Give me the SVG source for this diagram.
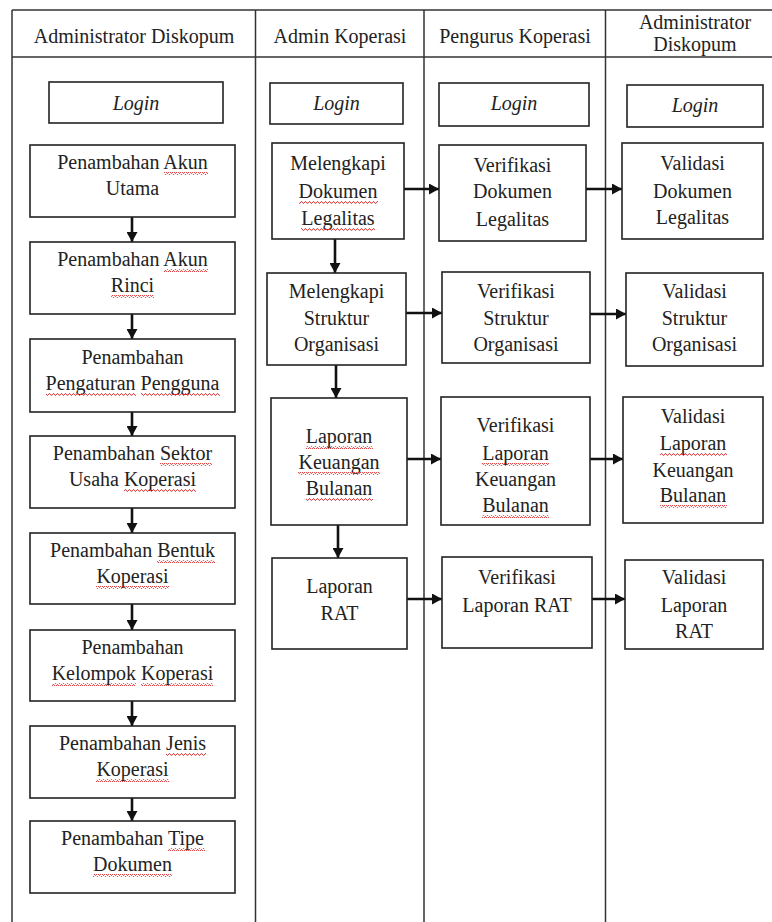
<svg xmlns="http://www.w3.org/2000/svg" width="772" height="922" viewBox="0 0 772 922">
<style>
text{font-family:"Liberation Serif","Times New Roman",serif;font-size:20px;fill:#222;text-anchor:middle}
.it{font-style:italic}
.box{fill:#fff;stroke:#222;stroke-width:1.6}
.grid{stroke:#333;stroke-width:1.5;fill:none}
.arr{stroke:#111;stroke-width:2.6;fill:none;marker-end:url(#ah)}
.wv{fill:url(#wave)}
</style>
<defs>
<marker id="ah" markerUnits="userSpaceOnUse" markerWidth="11" markerHeight="11" refX="10" refY="5.5" orient="auto">
<path d="M0,0 L10,5.5 L0,11 z" fill="#111"/>
</marker>
<pattern id="wave" patternUnits="userSpaceOnUse" width="4" height="3">
<path d="M0,2.3 L1,0.7 L2,0.7 L3,2.3 L4,2.3" fill="none" stroke="#d33" stroke-width="0.9"/>
</pattern>
</defs>
<rect width="772" height="922" fill="#fff"/>
<g id="table">
<line class="grid" x1="12" y1="10" x2="772" y2="10"/>
<line class="grid" x1="12" y1="57" x2="772" y2="57"/>
<line class="grid" x1="12" y1="10" x2="12" y2="922"/>
<line class="grid" x1="255.5" y1="10" x2="255.5" y2="922"/>
<line class="grid" x1="424" y1="10" x2="424" y2="922"/>
<line class="grid" x1="605.5" y1="10" x2="605.5" y2="922"/>
<text x="134" y="43">Administrator Diskopum</text>
<text x="340" y="43">Admin Koperasi</text>
<text x="515" y="43">Pengurus Koperasi</text>
<text x="695" y="29">Administrator</text>
<text x="695" y="51">Diskopum</text>
</g>
<g id="connectors">
<line class="arr" x1="132" y1="217" x2="132" y2="242"/>
<line class="arr" x1="132" y1="314" x2="132" y2="339"/>
<line class="arr" x1="132" y1="412" x2="132" y2="436"/>
<line class="arr" x1="132" y1="508" x2="132" y2="533"/>
<line class="arr" x1="132" y1="604" x2="132" y2="630"/>
<line class="arr" x1="132" y1="701" x2="132" y2="726"/>
<line class="arr" x1="132" y1="798" x2="132" y2="821"/>
<line class="arr" x1="335" y1="239" x2="335" y2="273"/>
<line class="arr" x1="336" y1="365" x2="336" y2="398"/>
<line class="arr" x1="338" y1="525" x2="338" y2="558"/>
<line class="arr" x1="402" y1="189" x2="439" y2="189"/>
<line class="arr" x1="583" y1="189" x2="622" y2="189"/>
<line class="arr" x1="406" y1="313" x2="442" y2="313"/>
<line class="arr" x1="590" y1="314" x2="626" y2="314"/>
<line class="arr" x1="407" y1="459" x2="441" y2="459"/>
<line class="arr" x1="588" y1="459" x2="623" y2="459"/>
<line class="arr" x1="407" y1="599" x2="442" y2="599"/>
<line class="arr" x1="589" y1="599" x2="625" y2="599"/>
</g>
<g id="login1"><rect class="box" x="49" y="82" width="174" height="41"/><text class="it" x="136" y="110">Login</text></g>
<g id="login2"><rect class="box" x="270" y="83" width="133" height="41"/><text class="it" x="336.5" y="110">Login</text></g>
<g id="login3"><rect class="box" x="439" y="83" width="150" height="43"/><text class="it" x="514" y="110">Login</text></g>
<g id="login4"><rect class="box" x="627" y="85" width="136" height="42"/><text class="it" x="695" y="112">Login</text></g>
<g id="a1"><rect class="box" x="30" y="145" width="205" height="72"/><text x="132.5" y="169">Penambahan Akun</text><text x="132.5" y="195">Utama</text>
<rect class="wv" x="164" y="172" width="44" height="3"/></g>
<g id="a2"><rect class="box" x="30" y="242" width="205" height="72"/><text x="132.5" y="266">Penambahan Akun</text><text x="132.5" y="292">Rinci</text>
<rect class="wv" x="164" y="269" width="44" height="3"/><rect class="wv" x="111" y="295" width="43" height="3"/></g>
<g id="a3"><rect class="box" x="30" y="339" width="205" height="73"/><text x="132.5" y="364">Penambahan</text><text x="132.5" y="390">Pengaturan Pengguna</text>
<rect class="wv" x="46" y="393" width="90" height="3"/><rect class="wv" x="141" y="393" width="79" height="3"/></g>
<g id="a4"><rect class="box" x="30" y="436" width="205" height="72"/><text x="132.5" y="460">Penambahan Sektor</text><text x="132.5" y="486">Usaha Koperasi</text>
<rect class="wv" x="160" y="463" width="52" height="3"/><rect class="wv" x="124" y="489" width="72" height="3"/></g>
<g id="a5"><rect class="box" x="30" y="533" width="205" height="71"/><text x="132.5" y="557">Penambahan Bentuk</text><text x="132.5" y="583">Koperasi</text>
<rect class="wv" x="157" y="560" width="58" height="3"/><rect class="wv" x="96" y="586" width="73" height="3"/></g>
<g id="a6"><rect class="box" x="30" y="630" width="205" height="71"/><text x="132.5" y="654">Penambahan</text><text x="132.5" y="680">Kelompok Koperasi</text>
<rect class="wv" x="52" y="683" width="84" height="3"/><rect class="wv" x="141" y="683" width="72" height="3"/></g>
<g id="a7"><rect class="box" x="30" y="726" width="205" height="72"/><text x="132.5" y="750">Penambahan Jenis</text><text x="132.5" y="776">Koperasi</text>
<rect class="wv" x="166" y="753" width="40" height="3"/><rect class="wv" x="96" y="779" width="73" height="3"/></g>
<g id="a8"><rect class="box" x="30" y="821" width="205" height="72"/><text x="132.5" y="845">Penambahan Tipe</text><text x="132.5" y="871">Dokumen</text>
<rect class="wv" x="168" y="848" width="37" height="3"/><rect class="wv" x="93" y="874" width="79" height="3"/></g>
<g id="m1"><rect class="box" x="272" y="143" width="132" height="96"/><text x="338" y="170">Melengkapi</text><text x="338" y="198">Dokumen</text><text x="338" y="225">Legalitas</text>
<rect class="wv" x="299" y="201" width="79" height="3"/><rect class="wv" x="301" y="228" width="74" height="3"/></g>
<g id="m2"><rect class="box" x="267" y="273" width="139" height="92"/><text x="336.5" y="298">Melengkapi</text><text x="336.5" y="325">Struktur</text><text x="336.5" y="351">Organisasi</text></g>
<g id="m3"><rect class="box" x="271" y="398" width="136" height="127"/><text x="339" y="443">Laporan</text><text x="339" y="469">Keuangan</text><text x="339" y="495">Bulanan</text>
<rect class="wv" x="306" y="446" width="67" height="3"/><rect class="wv" x="298" y="472" width="82" height="3"/><rect class="wv" x="306" y="498" width="67" height="3"/></g>
<g id="m4"><rect class="box" x="272" y="558" width="135" height="91"/><text x="339.5" y="593">Laporan</text><text x="339.5" y="620">RAT</text></g>
<g id="p1"><rect class="box" x="439" y="145" width="147" height="96"/><text x="512.5" y="172">Verifikasi</text><text x="512.5" y="198">Dokumen</text><text x="512.5" y="226">Legalitas</text></g>
<g id="p2"><rect class="box" x="442" y="272" width="148" height="91"/><text x="516" y="298">Verifikasi</text><text x="516" y="325">Struktur</text><text x="516" y="351">Organisasi</text></g>
<g id="p3"><rect class="box" x="441" y="397" width="149" height="128"/><text x="515.5" y="432">Verifikasi</text><text x="515.5" y="460">Laporan</text><text x="515.5" y="486">Keuangan</text><text x="515.5" y="512">Bulanan</text>
<rect class="wv" x="482" y="463" width="67" height="3"/><rect class="wv" x="482" y="515" width="67" height="3"/></g>
<g id="p4"><rect class="box" x="442" y="557" width="150" height="91"/><text x="517" y="584">Verifikasi</text><text x="517" y="612">Laporan RAT</text></g>
<g id="v1"><rect class="box" x="622" y="143" width="141" height="96"/><text x="692.5" y="170">Validasi</text><text x="692.5" y="198">Dokumen</text><text x="692.5" y="224">Legalitas</text></g>
<g id="v2"><rect class="box" x="626" y="273" width="137" height="93"/><text x="694.5" y="298">Validasi</text><text x="694.5" y="325">Struktur</text><text x="694.5" y="351">Organisasi</text></g>
<g id="v3"><rect class="box" x="623" y="397" width="140" height="126"/><text x="693" y="423">Validasi</text><text x="693" y="450">Laporan</text><text x="693" y="477">Keuangan</text><text x="693" y="502">Bulanan</text>
<rect class="wv" x="660" y="453" width="67" height="3"/><rect class="wv" x="660" y="505" width="67" height="3"/></g>
<g id="v4"><rect class="box" x="625" y="560" width="138" height="89"/><text x="694" y="584">Validasi</text><text x="694" y="612">Laporan</text><text x="694" y="638">RAT</text></g>
</svg>
